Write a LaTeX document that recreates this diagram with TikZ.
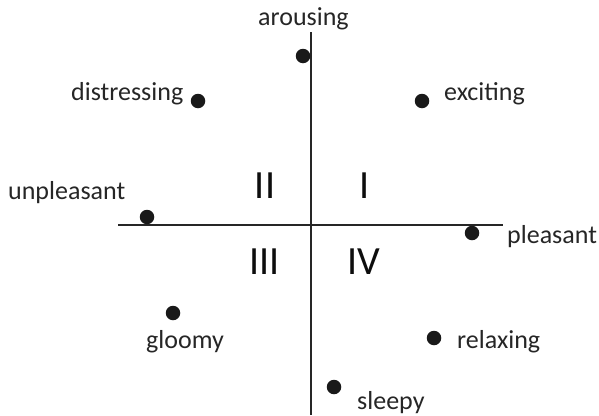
\documentclass[tikz,border=0pt]{standalone}
\usepackage{fontspec}
\setmainfont{Carlito}
\usepackage{tikz}
\usetikzlibrary{positioning}

\begin{document}
\begin{tikzpicture}[x=1pt,y=-1pt,
  axis/.style={line width=1.6pt,black!85},
  dot/.style={circle,fill=black!90,inner sep=0pt,minimum size=14.5pt},
  word/.style={anchor=base west,inner sep=0pt,font=\fontsize{26}{28}\selectfont,text=black!85},
  quad/.style={anchor=base,inner sep=0pt,font=\fontsize{40}{44}\selectfont,text=black!95}]
  \useasboundingbox (0,0) rectangle (599,415);
  % axes
  \coordinate (vtop) at (311,32);
  \coordinate (vbot) at (311,415);
  \coordinate (hleft) at (118,225);
  \coordinate (hright) at (503,225);
  \draw[axis] (vtop) -- (vbot);
  \draw[axis] (hleft) -- (hright);
  % quadrants
  \node[quad] (qII) at (265,198) {II};
  \node[quad] (qI) at (365,198) {I};
  \node[quad] (qIII) at (264.5,274) {III};
  \node[quad] (qIV) at (364,274) {IV};
  % affect words
  \node[dot] (dArousing) at (303,56) {};
  \node[word] (arousing) at (258,25) {arousing};
  \node[dot] (dDistress) at (198,101) {};
  \node[word] (distressing) at (71,100) {distressing};
  \node[dot] (dExciting) at (422,101) {};
  \node[word] (exciting) at (444,100) {exciting};
  \node[dot] (dUnpleasant) at (147,217) {};
  \node[word] (unpleasant) at (8,199) {unpleasant};
  \node[dot] (dPleasant) at (472,233) {};
  \node[word] (pleasant) at (507,243) {pleasant};
  \node[dot] (dGloomy) at (173,313) {};
  \node[word] (gloomy) at (146,348) {gloomy};
  \node[dot] (dRelaxing) at (434,338) {};
  \node[word] (relaxing) at (457,348) {relaxing};
  \node[dot] (dSleepy) at (334,387) {};
  \node[word] (sleepy) at (357,409) {sleepy};
\end{tikzpicture}
\end{document}
